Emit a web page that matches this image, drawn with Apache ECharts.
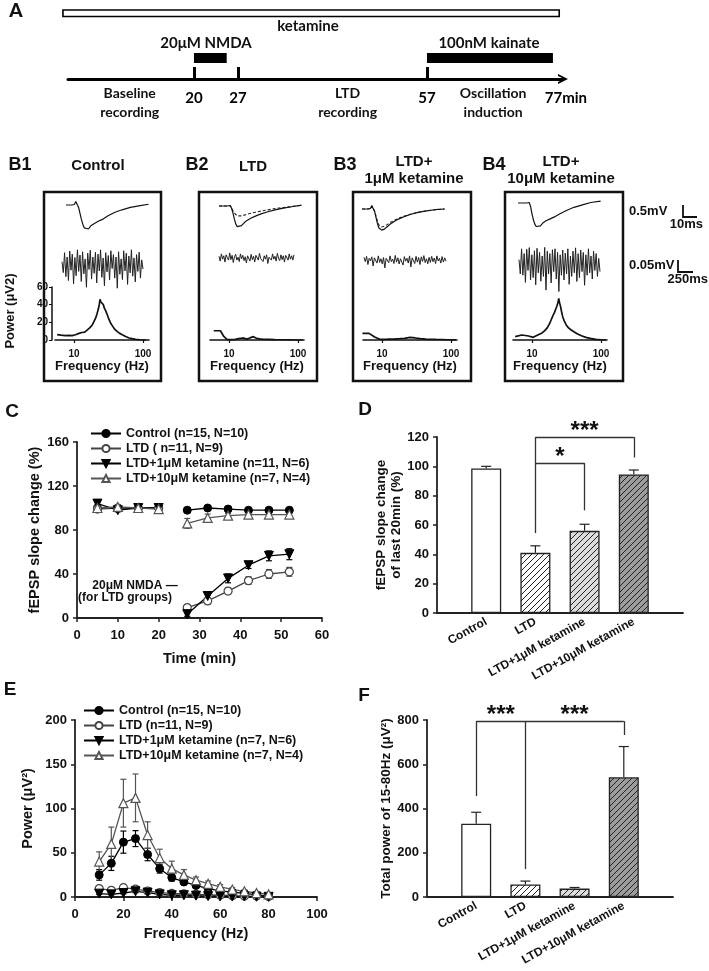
<!DOCTYPE html>
<html><head><meta charset="utf-8">
<script src="https://cdn.jsdelivr.net/npm/echarts@6/dist/echarts.min.js"></script>
<style>html,body{margin:0;padding:0;background:#fff}#c{width:709px;height:971px}</style>
</head><body><div id="c"></div>
<script>
// ================= DATA =================
// Panel A timeline (minutes)
const timelineTicks = [20, 27, 57];
const timelineEnd = 77;
const ketamineSpan = [-0.8, 78];
const nmdaSpan = [20, 25.2];
const kainateSpan = [57, 77];
const phaseLabels = ['Baseline\nrecording', 'LTD\nrecording', 'Oscillation\ninduction'];
const phaseCenters = [9.8, 44.4, 67.5];

// Panel B example fEPSP traces (ms, mV)
const epspTime = [0,4,6,7,8,9,10,11,12,13,14,16,18,20,23,26,30,35,40,46,52,59];
const epspB1 = [0,0,0.02,0.15,0.12,-0.1,-0.35,-0.6,-0.8,-0.95,-1.02,-1.0,-0.85,-0.78,-0.68,-0.6,-0.45,-0.3,-0.2,-0.1,-0.04,0.03];
const epspB2 = [0,0,0,0.05,0.02,-0.1,-0.3,-0.55,-0.75,-0.86,-0.88,-0.82,-0.7,-0.6,-0.5,-0.42,-0.33,-0.24,-0.16,-0.09,-0.03,0.04];
const epspB2base = [0,0,0,0.05,0.02,-0.08,-0.2,-0.3,-0.37,-0.41,-0.42,-0.41,-0.38,-0.34,-0.3,-0.26,-0.21,-0.16,-0.11,-0.06,-0.02,0.03];
const epspB3 = [0,0,0.02,0.13,0.1,-0.1,-0.35,-0.6,-0.78,-0.86,-0.88,-0.84,-0.74,-0.64,-0.52,-0.42,-0.32,-0.22,-0.14,-0.08,-0.03,0];
const epspB3base = [0,0,0.02,0.13,0.1,-0.08,-0.3,-0.5,-0.66,-0.73,-0.75,-0.72,-0.65,-0.57,-0.47,-0.39,-0.3,-0.21,-0.14,-0.08,-0.03,0];
const epspB4 = [0,0,0,0.04,0.02,-0.15,-0.45,-0.7,-0.88,-0.98,-1.0,-0.95,-0.82,-0.74,-0.66,-0.58,-0.45,-0.3,-0.18,-0.08,0.02,0.08];

// Panel B oscillation traces (µV)
const oscB1 = [10,-35,48,-52,30,-68,55,-25,42,-82,28,-48,60,-30,38,-72,52,-40,22,-96,46,-22,58,-62,30,-38,50,-78,42,-28,60,-55,26,-90,48,-32,36,-66,56,-18,40,-58,30,-100,52,-42,22,-64,56,-28,46,-84,34,-36,60,-50,26,-74,40,-30,50,-58,18,-20];
const oscB2 = [8,-12,18,-4,10,-16,14,2,-8,22,-6,12,-18,6,16,-8,4,-14,18,-2,12,-10,6,-20,10,2,-12,16,-6,8,-16,12,4,-8,20,-2,6,-14,10,-4,14,-22,4,12,-8,18,-4,8,-12,20,0,-10,14,-6,10,-16,12,4,-8,18,-4,10,-8,14];
const oscB3 = [12,-6,16,-18,8,-3,14,-24,10,4,-12,18,-9,6,-15,11,-32,8,14,-10,18,-6,5,-14,20,-8,10,-16,6,12,-20,15,-4,8,-12,18,-28,10,3,-14,16,-8,11,-18,14,-5,19,-10,6,-15,12,-9,16,-6,9,-14,18,-3,8,-12,15,-8,10,-4];
const oscB4 = [15,-45,60,-50,40,-80,58,-30,65,-70,35,-60,52,-90,62,-40,45,-75,30,-55,66,-112,50,-45,40,-82,56,-35,60,-66,45,-118,35,-50,55,-70,42,-45,60,-88,30,-55,50,-40,64,-76,40,-60,55,-35,45,-92,35,-50,60,-40,30,-66,50,-30,40,-55,20,-35];

// Panel B power spectra [Hz, µV2]
const specB1 = [[5.7,6],[6.5,5.5],[7.5,5],[8.5,5.2],[9.4,5],[10.5,6],[11.8,7.5],[13,8.5],[14.3,9],[15.6,11.5],[17,14],[18.4,17],[19.5,21],[20.6,25],[21.6,30],[22.5,35],[23.2,40],[23.8,46],[24.5,43],[25.2,42],[26,41],[26.6,40],[27.5,36],[28.8,33],[30.5,28],[32.2,23],[34,19],[36,16],[39,12],[42.4,9.5],[46,7.5],[50,6],[56,4],[62.7,2.3],[70,1.5],[78,0.8],[90,0.3],[109,0]];
const specB2 = [[6,10.5],[7.5,10.5],[8.4,4],[9.4,0.5],[11,0.5],[12.3,0.8],[13.7,1.5],[15,2],[16.2,2.3],[17.2,1.5],[18.1,1],[19.5,2],[21,3],[22.5,3.8],[24,2.5],[25,1.9],[28,1.2],[31.3,0.8],[38,0.6],[45.8,0.4],[60,0.3],[80,0.1],[116,0]];
const specB3 = [[5.2,7.5],[6.5,7.5],[7.8,3.4],[9.3,0.8],[12,0.9],[14.8,1.1],[18,1.5],[21.2,1.9],[25.4,3],[30.1,2.3],[36,1.5],[43,1.1],[60,0.6],[90,0.3],[118,0.2]];
const specB4 = [[5.7,3.8],[7.1,5.7],[8.9,4.5],[10.4,3],[11.7,5],[13,6.8],[14,8],[15.3,10.6],[16.7,14],[18.1,19],[19.2,24],[20.2,28],[21.1,31],[22,32],[22.8,38],[23.6,41.5],[24.4,47],[25.1,42],[25.9,38],[26.8,32],[27.8,26.4],[29.5,21],[31.3,17],[33.5,14],[36.9,11.3],[41,9],[45.8,6.8],[52,4.8],[60.3,3],[70,1.8],[84,0.8],[100,0.3],[118,0]];

// Panel C: fEPSP slope change (%)
const timeC = [5,10,15,20,27,32,37,42,47,52];
const cControl = [100,100,100,100,98,100,99,98,98,98];
const cControlErr = [1,1,1,1,1.5,1.5,1.5,1.5,1.5,1.5];
const cLTD = [99,100,100,100,9.5,15.5,24.5,34,40,42];
const cLTDErr = [1.5,1.5,1.5,1.5,2,3,3,3.5,4,4];
const cK1 = [104,98,100,100,3.5,20,36,48,56.5,58];
const cK1Err = [1.5,1.5,1,1,2,3,4,3,4.5,5];
const cK10 = [100,101,100,99,86,91,93,94,94,94];
const cK10Err = [1.5,1.5,1,1,4.5,3.5,2,2,2,2];
const cNames = ['Control (n=15, N=10)','LTD ( n=11, N=9)','LTD+1μM ketamine (n=11, N=6)','LTD+10μM ketamine (n=7, N=4)'];

// Panel D: fEPSP slope change of last 20 min (%)
const groups = ['Control','LTD','LTD+1μM ketamine','LTD+10μM ketamine'];
const dMean = [98.5, 41, 56, 94.5];
const dErr = [1.5, 4.8, 4.5, 3];

// Panel E: power spectra (µV2)
const freqE = [10,15,20,25,30,35,40,45,50,55,60,65,70,75,80];
const eControl = [25,38,62,66,48,32,22,17,13,9.5,7,5.5,4,2.5,1];
const eControlErr = [6,8,12.5,9,7,5,4,3,2.5,2,1.5,1.5,1,1,0.5];
const eLTD = [9.5,7.5,10.5,9,6.8,5,4,3.5,3,2.5,2,1.5,1,1,0.5];
const eLTDErr = [2,1.5,3,2,1.5,1,1,1,0.8,0.6,0.5,0.5,0.4,0.3,0.3];
const eK1 = [3.8,3,4.5,6.4,5,3,2,2,1.5,1,1,0.5,0.5,0.3,0.2];
const eK1Err = [1,0.8,1,1.5,1,0.8,0.6,0.5,0.4,0.3,0.3,0.2,0.2,0.2,0.1];
const eK10 = [40,60,106,112,70,44,32,25,19,15,11.5,8.5,6.4,4.5,3];
const eK10Err = [11,19,27,27,15,10,8.5,6,3.5,3,2.5,2,1.5,1,1];
const eNames = ['Control (n=15, N=10)','LTD (n=11, N=9)','LTD+1μM ketamine (n=7, N=6)','LTD+10μM ketamine (n=7, N=4)'];

// Panel F: total power 15-80 Hz (µV2)
const fMean = [331, 57, 38, 541];
const fErr = [52, 15, 5, 139];

// ================= STYLE / BUILD =================
const FONT = "'Liberation Sans', Arial, sans-serif";
const AFONT = "Lato, 'Open Sans', sans-serif";
const INK = '#111';
const grids = [], xAxes = [], yAxes = [], series = [], g = [];

function addGrid(grid, xa, ya) {
  grids.push(grid);
  const i = grids.length - 1;
  xa.gridIndex = i; ya.gridIndex = i;
  xAxes.push(xa); yAxes.push(ya);
  return i;
}
const hidden = (min, max) => ({type:'value', min, max, show:false});
const axLine = {show:true, onZero:false, lineStyle:{color:'#222', width:1.8}};
const axTick = {show:true, length:4, lineStyle:{color:'#222', width:1.5}};
const lbl = (o={}) => Object.assign({color:INK, fontFamily:FONT, fontWeight:'bold', fontSize:13}, o);
const nameStyle = (size) => ({color:INK, fontFamily:FONT, fontWeight:'bold', fontSize:size});

function txt(x, y, text, size, o = {}) {
  g.push({type:'text', x, y, rotation:o.rot || 0, z:50,
    style:{text, fill:INK, fontFamily:o.family || FONT, fontSize:size, fontWeight:o.weight || 'bold',
      align:o.align || 'center', verticalAlign:'middle', lineHeight:o.lh}});
}
function pline(points, w) { g.push({type:'polyline', z:50, shape:{points}, style:{stroke:INK, lineWidth:w || 2, fill:null}}); }
function box(x0, y0, x1, y1) { g.push({type:'rect', z:50, shape:{x:x0, y:y0, width:x1-x0, height:y1-y0}, style:{fill:null, stroke:INK, lineWidth:2.5}}); }

function hatch(bg) {
  const s = 6, c = document.createElement('canvas');
  c.width = s; c.height = s;
  const x = c.getContext('2d');
  x.fillStyle = bg; x.fillRect(0, 0, s, s);
  x.strokeStyle = '#222'; x.lineWidth = 1;
  x.beginPath();
  x.moveTo(0, s); x.lineTo(s, 0);
  x.moveTo(-1, 1); x.lineTo(1, -1);
  x.moveTo(s - 1, s + 1); x.lineTo(s + 1, s - 1);
  x.stroke();
  return {image:c, repeat:'repeat'};
}

function errSeries(gi, xs, ys, es, color, upOnly, cap) {
  return {type:'custom', xAxisIndex:gi, yAxisIndex:gi, z:1, silent:true, clip:false,
    encode:{x:0, y:1},
    data: xs.map((x, i) => [x, ys[i], es[i]]),
    renderItem: (p, api) => {
      const x = api.value(0), y = api.value(1), e = api.value(2);
      const t = api.coord([x, y + e]);
      const b = api.coord([x, upOnly ? y : y - e]);
      const st = {stroke:color, lineWidth:1.2};
      const ch = [
        {type:'line', shape:{x1:t[0], y1:t[1], x2:b[0], y2:b[1]}, style:st},
        {type:'line', shape:{x1:t[0]-cap, y1:t[1], x2:t[0]+cap, y2:t[1]}, style:st}];
      if (!upOnly) ch.push({type:'line', shape:{x1:b[0]-cap, y1:b[1], x2:b[0]+cap, y2:b[1]}, style:st});
      return {type:'group', children:ch};
    }};
}

// ---------- Panel A ----------
const gA = addGrid({left:68, top:0, width:495, height:79},
  {type:'value', min:0, max:78.6,
   axisLine:{show:true, lineStyle:{color:'#000', width:3}, symbol:['none','path://M0,12 L6,0 L12,12 L9.5,12 L6,4.5 L2.5,12 Z'], symbolSize:[13,10]},
   axisTick:{show:true, inside:true, length:12, lineStyle:{color:'#000', width:3}, customValues:timelineTicks},
   axisLabel:{customValues:[...timelineTicks, timelineEnd], margin:12,
     formatter: v => v === timelineEnd ? '{m|' + v + 'min}' : String(v),
     color:'#000', fontFamily:AFONT, fontWeight:'bold', fontSize:15,
     rich:{m:{fontFamily:AFONT, fontWeight:'bold', fontSize:15, color:'#000', padding:[0,0,0,26]}}},
   splitLine:{show:false}},
  hidden(0, 79));
series.push({type:'custom', xAxisIndex:gA, yAxisIndex:gA, clip:false, silent:true,
  data:[[ketamineSpan[0], ketamineSpan[1], 0], [nmdaSpan[0], nmdaSpan[1], 1], [kainateSpan[0], kainateSpan[1], 1]],
  renderItem:(p, api) => {
    const x0 = api.coord([api.value(0), 0])[0], x1 = api.coord([api.value(1), 0])[0];
    const open = api.value(2) === 0;
    return {type:'rect', shape:{x:x0, y:open ? 10 : 53, width:x1 - x0, height:open ? 6.5 : 10},
      style: open ? {fill:'#fff', stroke:'#000', lineWidth:1.6} : {fill:'#000'}};
  }});
txt(16, 11, 'A', 19, {family:AFONT, weight:900});
txt(308, 26, 'ketamine', 15, {family:AFONT});
txt(206, 43, '20μM NMDA', 15, {family:AFONT});
txt(489, 43, '100nM kainate', 15, {family:AFONT});

// ---------- Panel B ----------
const bEpsp = [[66,195.4,epspB1,null],[219,196.4,epspB2,epspB2base],[362,199.4,epspB3,epspB3base],[518,193.4,epspB4,null]];
bEpsp.forEach(([L, T, tr, base]) => {
  const gi = addGrid({left:L, top:T, width:82.6, height:38.4}, hidden(0, 59), hidden(-1.2, 0.4));
  if (base) series.push({type:'line', xAxisIndex:gi, yAxisIndex:gi, showSymbol:false, silent:true,
    lineStyle:{color:'#222', width:1.1, type:[3,2]}, data:epspTime.map((t, i) => [t, base[i]])});
  series.push({type:'line', xAxisIndex:gi, yAxisIndex:gi, showSymbol:false, silent:true,
    lineStyle:{color:'#111', width:1.2}, data:epspTime.map((t, i) => [t, tr[i]])});
});
const bOsc = [[62,245,81,oscB1],[219,239,75,oscB2],[364,241,82,oscB3],[519,244,81,oscB4]];
bOsc.forEach(([L, T, W, tr]) => {
  const gi = addGrid({left:L, top:T, width:W, height:48}, hidden(0, tr.length - 1), hidden(-120, 80));
  series.push({type:'line', xAxisIndex:gi, yAxisIndex:gi, showSymbol:false, silent:true,
    lineStyle:{color:'#222', width:1}, data:tr.map((v, i) => [i, v])});
});
const bSpec = [[55,specB1,true],[210,specB2,false],[363,specB3,false],[513,specB4,false]];
bSpec.forEach(([L, sp, withY]) => {
  const gi = addGrid({left:L, top:287, width:94, height:53},
    {type:'log', logBase:10, min:5.3, max:122,
     axisLine:{show:true, onZero:false, lineStyle:{color:'#111', width:1.6}},
     axisTick:{show:true, length:3, customValues:[10,100], lineStyle:{color:'#111', width:1.2}},
     axisLabel:lbl({fontSize:10, margin:9, customValues:[10,100]}),
     splitLine:{show:false}, minorTick:{show:false},
     name:'Frequency (Hz)', nameLocation:'middle', nameGap:17, nameTextStyle:nameStyle(13)},
    withY ? {type:'value', min:0, max:60, interval:20, offset:3,
       axisLine:{show:true, lineStyle:{color:'#111', width:1.5}}, axisTick:{show:true, length:3, lineStyle:{color:'#111'}},
       axisLabel:lbl({fontSize:10, margin:4}), splitLine:{show:false}}
      : hidden(0, 60));
  series.push({type:'line', xAxisIndex:gi, yAxisIndex:gi, showSymbol:false, silent:true,
    lineStyle:{color:'#111', width:1.7}, data:sp});
});
txt(20, 165, 'B1', 18); txt(197, 165, 'B2', 18); txt(345, 165, 'B3', 18); txt(494, 165, 'B4', 18);
txt(98, 166, 'Control', 15); txt(253, 167, 'LTD', 15);
txt(414, 162, 'LTD+', 15); txt(414, 179, '1μM ketamine', 15);
txt(561, 162, 'LTD+', 15); txt(561, 179, '10μM ketamine', 15);
box(44, 192, 161, 381); box(199, 192, 317, 381); box(353, 192, 471, 381); box(505, 192, 623, 381);
pline([[683,205],[683,217],[697,217]], 1.8); txt(629, 211, '0.5mV', 13, {align:'left'}); txt(703, 224, '10ms', 13, {align:'right'});
pline([[678,260],[678,272],[693,272]], 1.8); txt(629, 265, '0.05mV', 13, {align:'left'}); txt(708, 279, '250ms', 13, {align:'right'});
txt(10, 311, 'Power (μV2)', 13, {rot:Math.PI / 2});

// ---------- Panel C ----------
const gC = addGrid({left:77, top:442, width:245, height:176},
  {type:'value', min:0, max:60, interval:10, axisLine:axLine, axisTick:axTick, axisLabel:lbl({margin:11}),
   splitLine:{show:false}, name:'Time (min)', nameLocation:'middle', nameGap:33, nameTextStyle:nameStyle(14.5)},
  {type:'value', min:0, max:160, interval:40, axisLine:axLine, axisTick:axTick, axisLabel:lbl({margin:8}),
   splitLine:{show:false}, name:'fEPSP slope change (%)', nameLocation:'middle', nameGap:35, nameTextStyle:nameStyle(14.5)});
function withGap(xs, ys) {
  const out = [];
  xs.forEach((x, i) => { if (i > 0 && x - xs[i-1] > 6) out.push([(x + xs[i-1]) / 2, '-']); out.push([x, ys[i]]); });
  return out;
}
const styles = [
  {symbol:'circle', symbolSize:8, itemStyle:{color:'#000', borderColor:'#000', borderWidth:1}, lineStyle:{color:'#000', width:1.3}},
  {symbol:'circle', symbolSize:8, itemStyle:{color:'#fff', borderColor:'#444', borderWidth:1.2}, lineStyle:{color:'#444', width:1.3}},
  {symbol:'triangle', symbolRotate:180, symbolSize:9, itemStyle:{color:'#000', borderColor:'#000', borderWidth:1}, lineStyle:{color:'#000', width:1.3}},
  {symbol:'triangle', symbolSize:9, itemStyle:{color:'#fff', borderColor:'#555', borderWidth:1.2}, lineStyle:{color:'#555', width:1.3}}];
const cVals = [cControl, cLTD, cK1, cK10], cErrs = [cControlErr, cLTDErr, cK1Err, cK10Err];
cVals.forEach((v, k) => series.push(errSeries(gC, timeC, v, cErrs[k], styles[k].lineStyle.color, false, 3)));
cVals.forEach((v, k) => series.push(Object.assign({type:'line', name:cNames[k], xAxisIndex:gC, yAxisIndex:gC, z:3,
  showAllSymbol:true, connectNulls:false, data:withGap(timeC, v)}, styles[k])));
txt(12, 412, 'C', 19);
txt(135, 586, '20μM NMDA —', 12);
txt(125, 598, '(for LTD groups)', 12);

// ---------- Panel D ----------
const hatches = [{color:'#fff'}, {color:hatch('#ffffff')}, {color:hatch('#dcdcdc')}, {color:hatch('#9c9c9c')}];
const catAxis = {type:'category', data:['', ...groups, ''], boundaryGap:false, axisLine:axLine, axisTick:{show:false},
  axisLabel:lbl({interval:0, rotate:29, fontSize:12, margin:8}), splitLine:{show:false}};
const gD = addGrid({left:437, top:437, width:246, height:176}, JSON.parse(JSON.stringify(catAxis)),
  {type:'value', min:0, max:120, interval:20, axisLine:axLine, axisTick:axTick, axisLabel:lbl({margin:8}),
   splitLine:{show:false}, name:'fEPSP slope change\nof last 20min (%)', nameLocation:'middle', nameGap:32,
   nameTextStyle:Object.assign(nameStyle(13.5), {lineHeight:15})});
const bracketStyle = {color:'#333', width:1.3, type:'solid'};
const starLbl = (s) => ({show:true, formatter:s, position:'insideMiddleTop', distance:-6, color:INK, fontSize:24, fontWeight:'bold', fontFamily:FONT});
series.push({type:'bar', xAxisIndex:gD, yAxisIndex:gD, barWidth:30, z:2, silent:true,
  itemStyle:{borderColor:'#222', borderWidth:1.3},
  data:dMean.map((v, i) => ({value:[i + 1, v], itemStyle:hatches[i]})),
  markLine:{silent:true, symbol:['none','none'], animation:false, lineStyle:bracketStyle, label:{show:false},
    data:[
      [{coord:[2,120], label:starLbl('***')}, {coord:[4,120]}],
      [{coord:[4,120]}, {coord:[4,106]}],
      [{coord:[2,120]}, {coord:[2,54.5]}],
      [{coord:[2,102.2], label:starLbl('*')}, {coord:[3,102.2]}],
      [{coord:[3,102.2]}, {coord:[3,70]}]]}});
series.push(errSeries(gD, [1,2,3,4], dMean, dErr, '#222', true, 5));
txt(365, 410, 'D', 19);

// ---------- Panel E ----------
const gE = addGrid({left:75, top:720, width:242, height:177},
  {type:'value', min:0, max:100, interval:20, axisLine:axLine, axisTick:axTick, axisLabel:lbl({margin:11}),
   splitLine:{show:false}, name:'Frequency (Hz)', nameLocation:'middle', nameGap:29, nameTextStyle:nameStyle(14.5)},
  {type:'value', min:0, max:200, interval:50, axisLine:axLine, axisTick:axTick, axisLabel:lbl({margin:8}),
   splitLine:{show:false}, name:'Power (μV²)', nameLocation:'middle', nameGap:40, nameTextStyle:nameStyle(14.5)});
const eVals = [eControl, eLTD, eK1, eK10], eErrs = [eControlErr, eLTDErr, eK1Err, eK10Err];
eVals.forEach((v, k) => series.push(errSeries(gE, freqE, v, eErrs[k], styles[k].lineStyle.color, false, 3)));
eVals.forEach((v, k) => series.push(Object.assign({type:'line', name:eNames[k], xAxisIndex:gE, yAxisIndex:gE, z:3,
  showAllSymbol:true, data:freqE.map((f, i) => [f, v[i]])}, styles[k])));
txt(10, 690, 'E', 19);

// ---------- Panel F ----------
const gF = addGrid({left:427, top:720, width:246, height:177}, JSON.parse(JSON.stringify(catAxis)),
  {type:'value', min:0, max:800, interval:200, axisLine:axLine, axisTick:axTick, axisLabel:lbl({margin:8}),
   splitLine:{show:false}, name:'Total power of 15-80Hz (μV²)', nameLocation:'middle', nameGap:34, nameTextStyle:nameStyle(13.5)});
series.push({type:'bar', xAxisIndex:gF, yAxisIndex:gF, barWidth:30, z:2, silent:true,
  itemStyle:{borderColor:'#222', borderWidth:1.3},
  data:fMean.map((v, i) => ({value:[i + 1, v], itemStyle:hatches[i]})),
  markLine:{silent:true, symbol:['none','none'], animation:false, lineStyle:bracketStyle, label:{show:false},
    data:[
      [{coord:[1,795], label:starLbl('***')}, {coord:[2,795]}],
      [{coord:[2,795], label:starLbl('***')}, {coord:[4,795]}],
      [{coord:[1,795]}, {coord:[1,456]}],
      [{coord:[2,795]}, {coord:[2,126]}],
      [{coord:[4,795]}, {coord:[4,732]}]]}});
series.push(errSeries(gF, [1,2,3,4], fMean, fErr, '#222', true, 5));
txt(364, 696, 'F', 19);

const legendText = {fontFamily:FONT, fontWeight:'bold', fontSize:12.5, color:INK};
const option = {
  animation:false, backgroundColor:'#fff',
  grid:grids, xAxis:xAxes, yAxis:yAxes, series,
  legend:[
    {data:cNames, orient:'vertical', left:90, top:427, itemWidth:30, itemHeight:9, itemGap:2, padding:0, selectedMode:false, textStyle:legendText},
    {data:eNames, orient:'vertical', left:83, top:704, itemWidth:30, itemHeight:9, itemGap:2, padding:0, selectedMode:false, textStyle:legendText}],
  graphic:g
};
const chart = echarts.init(document.getElementById('c'));
chart.setOption(option);
// phase captions of the timeline, placed through the timeline axis
phaseLabels.forEach((t, i) => {
  const px = chart.convertToPixel({xAxisIndex:gA}, phaseCenters[i]);
  txt(px, 102.5, t, 14, {family:AFONT, lh:19});
});
chart.setOption({graphic:g});
</script></body></html>
